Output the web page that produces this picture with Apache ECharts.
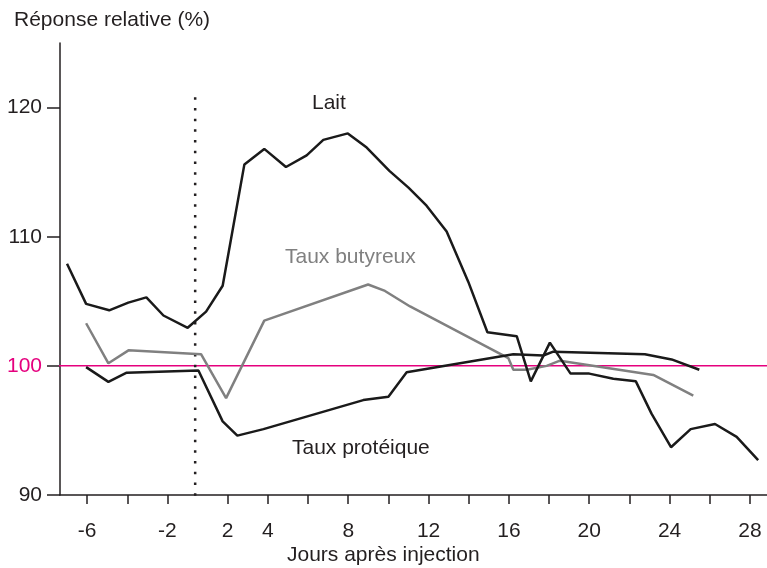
<!DOCTYPE html>
<html>
<head>
<meta charset="utf-8">
<script src="https://cdn.jsdelivr.net/npm/echarts@6/dist/echarts.min.js"></script>
<style>
html,body{margin:0;padding:0;background:#fff;}
#chart{width:767px;height:568px;}
</style>
</head>
<body>
<div id="chart"></div>
<script>
// jours (axe compressé entre -2 et 2)
var laitDays = [-7.0, -6.05, -4.9, -3.95, -3.05, -2.2, -0.54, 0.67, 1.69, 2.83, 3.82, 4.9, 5.93, 6.76, 7.98, 8.92, 10.05, 11.0, 11.9, 12.9, 13.98, 14.93, 16.39, 17.09, 18.04, 19.07, 20.0, 21.2, 22.32, 23.1, 24.07, 25.05, 26.26, 27.34, 28.41];
var laitValues = [107.9, 104.8, 104.3, 104.9, 105.3, 103.9, 102.95, 104.2, 106.2, 115.6, 116.8, 115.4, 116.3, 117.5, 118.0, 116.9, 115.1, 113.8, 112.4, 110.4, 106.5, 102.6, 102.3, 98.8, 101.8, 99.4, 99.4, 99.0, 98.8, 96.3, 93.7, 95.1, 95.5, 94.5, 92.7];

var butDays = [-6.05, -4.94, -3.94, 0.36, 1.9, 3.82, 8.99, 9.83, 11.08, 15.97, 16.22, 16.89, 17.88, 18.54, 23.19, 25.18];
var butValues = [103.3, 100.2, 101.2, 100.9, 97.5, 103.5, 106.3, 105.8, 104.6, 100.6, 99.7, 99.7, 100.0, 100.4, 99.3, 97.7];

var protDays = [-6.05, -4.94, -4.03, 0.2, 1.69, 2.48, 3.78, 8.75, 10.0, 10.91, 16.22, 17.71, 18.21, 22.77, 24.1, 25.48];
var protValues = [99.9, 98.76, 99.47, 99.64, 95.7, 94.6, 95.1, 97.35, 97.6, 99.5, 100.9, 100.8, 101.1, 100.9, 100.5, 99.7];

var tickDays = [-6, -4, -2, 2, 4, 6, 8, 10, 12, 14, 16, 18, 20, 22, 24, 26, 28];
var labelDays = [-6, -2, 2, 4, 8, 12, 16, 20, 24, 28];
var yTicks = [90, 100, 110, 120];
var injectionDay = 0;
var refValue = 100;

// position sur l'axe: echelle cassee autour de l'injection
function dayToU(d) {
    if (d <= -2) return d + 1;
    if (d <= 0) return -1 + (d + 2) / 2 * 1.38;
    if (d <= 2) return 0.38 + d / 2 * 1.62;
    return d;
}
function uToDay(u) {
    if (u <= -1) return u - 1;
    if (u <= 0.38) return -2 + (u + 1) / 1.38 * 2;
    if (u <= 2) return (u - 0.38) / 1.62 * 2;
    return u;
}
function pairs(days, vals) {
    var out = [];
    for (var i = 0; i < days.length; i++) {
        out.push([dayToU(days[i]), vals[i]]);
    }
    return out;
}

var xMin = -6.35, xMax = 28.85;
var font = "'Liberation Sans', Arial, sans-serif";
var fs = 21;
var ink = '#231f20';
var pink = '#e5007e';

var option = {
    animation: false,
    grid: {left: 60, right: 0, top: 43, bottom: 73},
    xAxis: {
        type: 'value',
        min: xMin,
        max: xMax,
        axisLine: {lineStyle: {color: ink, width: 1.5}},
        axisTick: {show: true, length: 9, lineStyle: {color: ink, width: 1.5},
            customValues: tickDays.map(dayToU)},
        axisLabel: {
            customValues: labelDays.map(dayToU),
            margin: 26,
            fontSize: fs,
            fontFamily: font,
            color: ink,
            formatter: function (u) { return String(Math.round(uToDay(u))); }
        },
        splitLine: {show: false}
    },
    yAxis: {
        type: 'value',
        min: 90,
        max: 125,
        axisLine: {show: true, onZero: false, lineStyle: {color: ink, width: 1.5}},
        axisTick: {show: true, length: 13, lineStyle: {color: ink, width: 1.5}, customValues: yTicks},
        axisLabel: {
            customValues: yTicks,
            margin: 18,
            fontSize: fs,
            fontFamily: font,
            color: function (v) { return v == 100 ? pink : ink; }
        },
        splitLine: {show: false}
    },
    graphic: [
        {type: 'text', left: 14, top: 10, style: {text: 'Réponse relative (%)', font: fs + 'px ' + font, fill: ink}},
        {type: 'text', left: 287, top: 545, style: {text: 'Jours après injection', font: fs + 'px ' + font, fill: ink}},
        {type: 'text', left: 312, top: 93, style: {text: 'Lait', font: fs + 'px ' + font, fill: ink}},
        {type: 'text', left: 285, top: 247, style: {text: 'Taux butyreux', font: fs + 'px ' + font, fill: '#808080'}},
        {type: 'text', left: 292, top: 438, style: {text: 'Taux protéique', font: fs + 'px ' + font, fill: ink}}
    ],
    series: [
        {
            name: 'ref', type: 'line', symbol: 'none', clip: false, silent: true,
            data: [[-7.05, refValue], [xMax, refValue]],
            lineStyle: {color: pink, width: 1.5}, z: 1
        },
        {
            name: 'injection', type: 'line', symbol: 'none', clip: false, silent: true,
            data: [[dayToU(injectionDay), 120.8], [dayToU(injectionDay), 89.4]],
            lineStyle: {color: ink, width: 2.5, type: [2.5, 8.2]}, z: 1
        },
        {
            name: 'Taux butyreux', type: 'line', symbol: 'none',
            data: pairs(butDays, butValues),
            lineStyle: {color: '#808080', width: 2.5}, z: 2
        },
        {
            name: 'Taux protéique', type: 'line', symbol: 'none',
            data: pairs(protDays, protValues),
            lineStyle: {color: '#1a1a1a', width: 2.5}, z: 3
        },
        {
            name: 'Lait', type: 'line', symbol: 'none',
            data: pairs(laitDays, laitValues),
            lineStyle: {color: '#1a1a1a', width: 2.5}, z: 3
        }
    ]
};

var myChart = echarts.init(document.getElementById('chart'));
myChart.setOption(option);
</script>
</body>
</html>
